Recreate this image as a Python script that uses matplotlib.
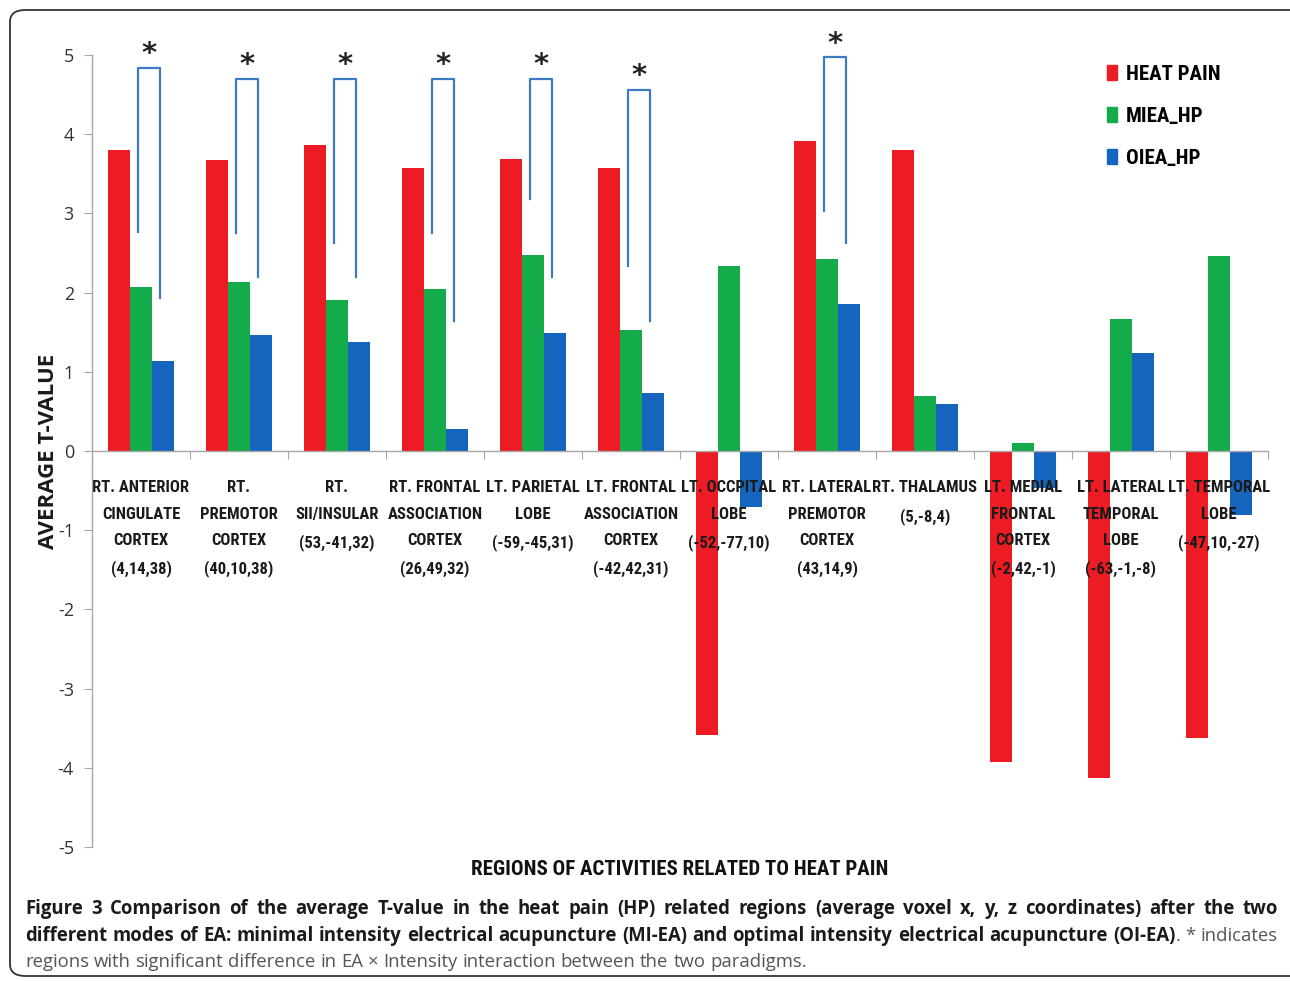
import matplotlib
matplotlib.use("Agg")
import matplotlib.pyplot as plt
import numpy as np
from matplotlib import font_manager
from matplotlib.patches import Patch, FancyBboxPatch

plt.rcParams['axes.unicode_minus'] = False


def pick_font(names):
    for name in names:
        try:
            font_manager.findfont(font_manager.FontProperties(family=name),
                                  fallback_to_default=False)
            return name
        except Exception:
            pass
    return 'DejaVu Sans'


NARROW = pick_font(['Liberation Sans Narrow', 'Roboto Condensed', 'Open Sans Condensed', 'Liberation Sans'])
BODY = pick_font(['Open Sans', 'Noto Sans', 'DejaVu Sans'])
CAPTION = BODY

# regions and their average T-values
regions = ["RT. ANTERIOR\nCINGULATE\nCORTEX\n(4,14,38)",
           "RT.\nPREMOTOR\nCORTEX\n(40,10,38)",
           "RT.\nSII/INSULAR\n(53,-41,32)",
           "RT. FRONTAL\nASSOCIATION\nCORTEX\n(26,49,32)",
           "LT. PARIETAL\nLOBE\n(-59,-45,31)",
           "LT. FRONTAL\nASSOCIATION\nCORTEX\n(-42,42,31)",
           "LT. OCCPITAL\nLOBE\n(-52,-77,10)",
           "RT. LATERAL\nPREMOTOR\nCORTEX\n(43,14,9)",
           "RT. THALAMUS\n(5,-8,4)",
           "LT. MEDIAL\nFRONTAL\nCORTEX\n(-2,42,-1)",
           "LT. LATERAL\nTEMPORAL\nLOBE\n(-63,-1,-8)",
           "LT. TEMPORAL\nLOBE\n(-47,10,-27)"]
heat_pain = [3.80, 3.67, 3.86, 3.57, 3.69, 3.57, -3.59, 3.91, 3.80, -3.93, -4.13, -3.62]
miea_hp = [2.07, 2.13, 1.91, 2.05, 2.47, 1.53, 2.34, 2.42, 0.69, 0.10, 1.67, 2.46]
oiea_hp = [1.14, 1.46, 1.38, 0.28, 1.49, 0.73, -0.71, 1.86, 0.59, -0.47, 1.24, -0.81]
series_names = ['HEAT PAIN', 'MIEA_HP', 'OIEA_HP']
series_colors = ['#ED1C24', '#14AB4A', '#1565BE']

# significance brackets: region index, left foot, top, right foot
sig_regions = [0, 1, 2, 3, 4, 5, 7]
sig_left = [2.77, 2.75, 2.63, 2.75, 3.18, 2.34, 3.03]
sig_top = [4.84, 4.70, 4.70, 4.70, 4.70, 4.56, 4.97]
sig_right = [1.93, 2.20, 2.20, 1.64, 2.20, 1.64, 2.63]

W, H = 1290, 981
fig = plt.figure(figsize=(W / 100, H / 100), dpi=100)
ax = fig.add_axes([92 / W, 1 - 847 / H, 1176 / W, 792 / H])

x = np.arange(len(regions)) + 0.5
bw = 0.224
for k, vals in enumerate([heat_pain, miea_hp, oiea_hp]):
    ax.bar(x + (k - 1) * bw, vals, bw, color=series_colors[k], label=series_names[k], zorder=1)

for i, l, t, r in zip(sig_regions, sig_left, sig_top, sig_right):
    xl, xr = x[i] - 0.03, x[i] + 0.19
    ax.plot([xl, xl, xr, xr], [l, t, t, r], color='#3B7BC4', lw=1.6, zorder=3)
    ax.text((xl + xr) / 2, t + 0.17, '*', ha='center', va='center', fontsize=21,
            fontweight='bold', color='#222222', family='DejaVu Sans')

ax.set_xlim(0, len(regions))
ax.set_ylim(-5, 5)
ax.set_yticks(np.arange(-5, 6, 1))
ax.spines['top'].set_visible(False)
ax.spines['right'].set_visible(False)
ax.spines['bottom'].set_position(('data', 0))
for s in ('left', 'bottom'):
    ax.spines[s].set_color('#A6A6A6')
    ax.spines[s].set_linewidth(1.0)

ax.set_xticks(np.arange(len(regions) + 1))
ax.set_xticklabels([])
ax.set_xticks(x, minor=True)
ax.set_xticklabels(regions, minor=True, fontsize=12, fontweight='bold',
                   family=NARROW, color='#1a1a1a', linespacing=1.95)
ax.tick_params(axis='x', which='major', length=6, color='#A6A6A6')
ax.tick_params(axis='x', which='minor', length=0, pad=21)
ax.tick_params(axis='y', length=6, color='#A6A6A6', labelcolor='#333333',
               labelsize=13, pad=7)
for lab in ax.get_yticklabels():
    lab.set_family(BODY)

ax.set_ylabel('AVERAGE T-VALUE', fontsize=16, fontweight='bold', family=BODY, color='#1a1a1a')
ax.yaxis.set_label_coords(-0.028, 0.5)
ax.set_xlabel('REGIONS OF ACTIVITIES RELATED TO HEAT PAIN', fontsize=15,
              fontweight='bold', family=NARROW, color='#111111')
ax.xaxis.set_label_coords(0.4996, -0.017)

handles = [Patch(color=c) for c in series_colors]
leg = ax.legend(handles, series_names, loc='upper left', frameon=False,
                bbox_to_anchor=(1107 / W, 1 - 65 / H), bbox_transform=fig.transFigure,
                handlelength=0.5, handleheight=0.75, handletextpad=0.4,
                labelspacing=1.1, borderpad=0, borderaxespad=0,
                prop={'family': NARROW, 'size': 15, 'weight': 'bold'})

# rounded outer frame
frame = FancyBboxPatch((10 / W, 1 - 976 / H), 1300 / W, 966 / H,
                       boxstyle='round,pad=0,rounding_size=0.012',
                       transform=fig.transFigure, fill=False,
                       edgecolor='#333333', lw=1.3, clip_on=False)
fig.patches.append(frame)

# caption, laid out word by word so the first two lines are justified
renderer = fig.canvas.get_renderer()
LEFT, RIGHT = 25, 1278


def text_width(s, size, weight):
    t = fig.text(0, 0, s, fontsize=size, fontweight=weight, family=CAPTION)
    w = t.get_window_extent(renderer).width
    t.remove()
    return w


def tokens(segments):
    # words made of one or more runs; a run that does not start with a space sticks to the previous word
    words = []
    for txt, weight, color in segments:
        parts = txt.split(' ')
        for j, p in enumerate(parts):
            if not p:
                continue
            if j == 0 and words and not txt.startswith(' '):
                words[-1].append((p, weight, color))
            else:
                words.append([(p, weight, color)])
    return words


def natural_width(segments, size):
    words = tokens(segments)
    space = text_width('a a', size, 'normal') - text_width('aa', size, 'normal')
    return sum(text_width(p, size, wt) for word in words for p, wt, c in word) + space * (len(words) - 1)


def caption_line(segments, y_px, justify, size):
    words = tokens(segments)
    widths = [sum(text_width(p, size, wt) for p, wt, c in word) for word in words]
    space = text_width('a a', size, 'normal') - text_width('aa', size, 'normal')
    if justify:
        gap = (RIGHT - LEFT - sum(widths)) / (len(words) - 1)
    else:
        gap = space
    xp = LEFT
    for word, wd in zip(words, widths):
        xr = xp
        for p, wt, c in word:
            fig.text(xr / W, 1 - y_px / H, p, fontsize=size, fontweight=wt, color=c,
                     family=CAPTION, va='baseline', ha='left')
            xr += text_width(p, size, wt)
        xp += wd + gap


line1 = [("Figure 3 Comparison of the average T-value in the heat pain (HP) related regions "
          "(average voxel x, y, z coordinates) after the two", 'bold', '#1a1a1a')]
line2 = [("different modes of EA: minimal intensity electrical acupuncture (MI-EA) and optimal "
          "intensity electrical acupuncture (OI-EA)", 'bold', '#1a1a1a'),
         (". * indicates", 'normal', '#555555')]
line3 = [("regions with significant difference in EA \u00d7 Intensity interaction between "
          "the two paradigms.", 'normal', '#555555')]

# size the caption so the longest justified line fits with normal spacing
base = 12.0
widest = max(natural_width(line1, base), natural_width(line2, base))
cap_size = base * (RIGHT - LEFT) / widest * 0.99

caption_line(line1, 914, True, cap_size)
caption_line(line2, 941, True, cap_size)
caption_line(line3, 967, False, cap_size)

fig.savefig('out.png', dpi=100)
